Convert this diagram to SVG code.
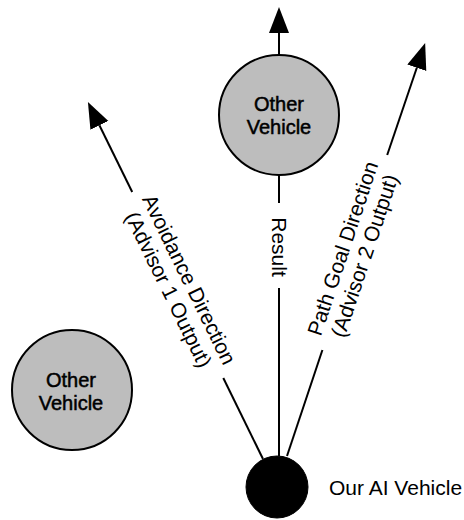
<svg xmlns="http://www.w3.org/2000/svg" width="464" height="520" viewBox="0 0 464 520">
  <style>
    .conn { stroke: #000; stroke-width: 2; fill: none; }
    .arrow { stroke: #000; stroke-width: 2; fill: none; marker-end: url(#head); }
    .other { fill: #bdbdbd; stroke: #000; stroke-width: 2; }
    .ours { fill: #000; stroke: #000; stroke-width: 1; }
    .ctext { font-family: "Liberation Sans", Arial, sans-serif; font-size: 20px; fill: #000; text-anchor: middle; stroke: #000; stroke-width: 0.5; }
    .label { font-family: "Liberation Sans", Arial, sans-serif; font-size: 21px; fill: #000; text-anchor: middle; }
    .side { font-family: "Liberation Sans", Arial, sans-serif; font-size: 21px; fill: #000; }
  </style>
  <defs>
    <marker id="head" markerUnits="userSpaceOnUse" markerWidth="27" markerHeight="21" refX="0" refY="10" orient="auto" viewBox="0 0 27 21">
      <path d="M0,0 L26,10 L0,20 Z" fill="#000"/>
    </marker>
  </defs>

  <g id="connectors">
    <!-- Avoidance direction -->
    <line class="conn" x1="263" y1="459" x2="223.3" y2="378"/>
    <line class="arrow" x1="132.2" y1="192" x2="99.4" y2="125.3"/>
    <!-- Result -->
    <line class="conn" x1="279" y1="456" x2="279" y2="288"/>
    <line class="conn" x1="279" y1="203" x2="279" y2="175"/>
    <line class="arrow" x1="279" y1="55" x2="279" y2="33"/>
    <!-- Path goal direction -->
    <line class="conn" x1="287" y1="456" x2="322.4" y2="350"/>
    <line class="arrow" x1="387.2" y1="155" x2="416.8" y2="67.7"/>
  </g>

  <g id="label-avoidance" transform="translate(177.7,285) rotate(63.9)">
    <text class="label" x="0" y="-5.5">Avoidance Direction</text>
    <text class="label" x="0" y="17.5">(Advisor 1 Output)</text>
  </g>
  <g id="label-result" transform="translate(279,247) rotate(90)">
    <text class="label" x="0" y="7.5">Result</text>
  </g>
  <g id="label-pathgoal" transform="translate(354.8,252.5) rotate(-71.5)">
    <text class="label" x="0" y="-5.5">Path Goal Direction</text>
    <text class="label" x="0" y="17.5">(Advisor 2 Output)</text>
  </g>

  <g id="other-vehicle-top">
    <circle class="other" cx="279" cy="115" r="60"/>
    <text class="ctext" x="279" y="111">Other</text>
    <text class="ctext" x="279" y="134">Vehicle</text>
  </g>

  <g id="other-vehicle-left">
    <circle class="other" cx="72" cy="390" r="60"/>
    <text class="ctext" x="71" y="387">Other</text>
    <text class="ctext" x="71" y="410">Vehicle</text>
  </g>

  <g id="our-ai-vehicle">
    <circle class="ours" cx="277" cy="487" r="31"/>
    <text class="side" x="329" y="495">Our AI Vehicle</text>
  </g>
</svg>
